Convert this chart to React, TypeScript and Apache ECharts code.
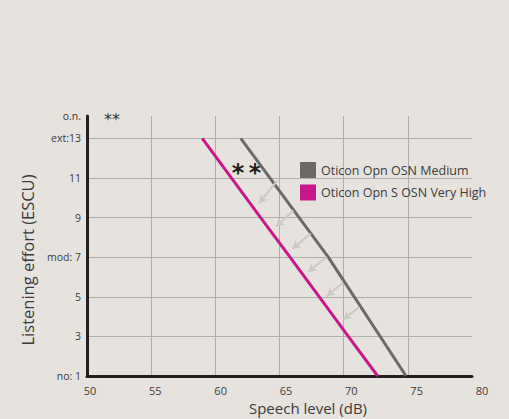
import React, { useEffect, useRef } from "react";
import * as echarts from "echarts";

// ---- data ----
const mediumEffort = [13, 7, 1];
const mediumSpeech = [61.98, 68.8, 74.86];
const veryHighEffort = [13, 11, 9, 7, 5, 3, 1];
const veryHighSpeech = [58.98, 61.25, 63.53, 65.82, 68.1, 70.36, 72.65];
const seriesNames = ["Oticon Opn OSN Medium", "Oticon Opn S OSN Very High"];
const xTicks = [50, 55, 60, 65, 70, 75, 80];
const yTickLabels: Record<number, string> = {
  1: "no: 1",
  3: "3",
  5: "5",
  7: "mod: 7",
  9: "9",
  11: "11",
  13: "ext:13",
};
const yTopLabel = "o.n.";
const yMin = 1;
const yMax = 14.13;
// arrows: [fromX, fromY, toX, toY]
const arrows = [
  [64.83, 10.87, 63.4, 9.73],
  [66.08, 9.36, 64.73, 8.55],
  [67.43, 8.19, 66.0, 7.43],
  [68.68, 7.01, 67.24, 6.25],
  [69.97, 5.72, 68.68, 5.03],
  [71.22, 4.49, 69.97, 3.85],
];

const FONT = "Open Sans";
const BG = "#e6e3df";
const GRID_C = "#b0aeab";
const TEXT_C = "#3b3a3a";

export default function App() {
  const ref = useRef<HTMLDivElement>(null);
  useEffect(() => {
    if (!ref.current) return;
    const chart = echarts.init(ref.current, undefined, { renderer: "svg" });
    const off = (v: number) => v - yMin;
    const yTickCount = Object.keys(yTickLabels).length;
    const ySplitColors = [
      "transparent",
      ...Array.from({ length: yTickCount - 1 }, () => GRID_C),
      "transparent",
    ];
    const xSplitColors = xTicks.map((t, i) =>
      i === 0 || i === xTicks.length - 1 ? "transparent" : GRID_C
    );
    const option: any = {
      animation: false,
      backgroundColor: BG,
      textStyle: { fontFamily: FONT },
      grid: [
        { left: 87, right: 37, top: 116, bottom: 43 },
        { left: 90, right: 27, top: 116, bottom: 43 },
      ],
      legend: {
        orient: "vertical",
        left: 295,
        top: 157,
        itemWidth: 16,
        itemHeight: 16,
        itemGap: 6.5,
        icon: "rect",
        data: seriesNames,
        textStyle: { color: TEXT_C, fontSize: 12.5, fontFamily: FONT },
      },
      xAxis: [
        {
          type: "value",
          gridIndex: 0,
          min: xTicks[0],
          max: xTicks[xTicks.length - 1],
          interval: 5,
          axisLine: { show: true, onZero: false, lineStyle: { color: "#231f20", width: 3 } },
          axisTick: { show: false },
          axisLabel: { show: false },
          splitLine: { show: true, lineStyle: { color: xSplitColors, width: 1 } },
        },
        {
          type: "value",
          gridIndex: 1,
          min: xTicks[0],
          max: xTicks[xTicks.length - 1],
          interval: 5,
          axisLine: { show: false },
          axisTick: { show: false },
          splitLine: { show: false },
          axisLabel: { show: true, color: TEXT_C, fontSize: 11, margin: 8, lineHeight: 12, fontFamily: FONT },
        },
      ],
      yAxis: [
        {
          type: "value",
          gridIndex: 0,
          min: 0,
          max: off(yMax),
          interval: 2,
          axisLine: { show: true, lineStyle: { color: "#231f20", width: 3 } },
          axisTick: { show: false },
          axisLabel: {
            color: TEXT_C,
            fontSize: 10.5,
            margin: 6,
            fontFamily: FONT,
            formatter: (v: number) => {
              const real = Math.round((v + yMin) * 100) / 100;
              if (Math.abs(real - yMax) < 0.01) return yTopLabel;
              return yTickLabels[real] ?? "";
            },
          },
          splitLine: { show: true, lineStyle: { color: ySplitColors, width: 1 } },
        },
        { type: "value", gridIndex: 1, show: false, min: 0, max: off(yMax) },
      ],
      series: [
        {
          name: seriesNames[0],
          type: "line",
          xAxisIndex: 0,
          yAxisIndex: 0,
          symbol: "none",
          z: 3,
          color: "#6c6968",
          lineStyle: { color: "#6c6968", width: 3 },
          itemStyle: { color: "#6c6968" },
          data: mediumSpeech.map((x, i) => [x, off(mediumEffort[i])]),
          markLine: {
            silent: true,
            symbol: ["none", "arrow"],
            symbolSize: [7, 8],
            label: { show: false },
            lineStyle: { color: "#cbc9c6", width: 2, type: "solid" },
            data: arrows.map((a) => [
              { coord: [a[0], off(a[1])] },
              { coord: [a[2], off(a[3])] },
            ]),
          },
        },
        {
          name: seriesNames[1],
          type: "line",
          xAxisIndex: 0,
          yAxisIndex: 0,
          symbol: "none",
          z: 3,
          color: "#c8168b",
          lineStyle: { color: "#c8168b", width: 3 },
          itemStyle: { color: "#c8168b" },
          data: veryHighSpeech.map((x, i) => [x, off(veryHighEffort[i])]),
        },
      ],
      graphic: [
        {
          type: "text",
          x: 27,
          y: 260,
          rotation: Math.PI / 2,
          style: {
            text: "Listening effort (ESCU)",
            fill: TEXT_C,
            fontSize: 16.5,
            fontFamily: FONT,
            align: "center",
            verticalAlign: "middle",
          },
        },
        {
          type: "text",
          x: 308,
          y: 408,
          style: {
            text: "Speech level (dB)",
            fill: TEXT_C,
            fontSize: 15,
            lineHeight: 15,
            fontFamily: FONT,
            align: "center",
            verticalAlign: "middle",
          },
        },
        {
          type: "text",
          x: 112,
          y: 119,
          style: {
            text: "**",
            fill: "#333",
            fontSize: 16,
            fontFamily: "DejaVu Sans",
            align: "center",
            verticalAlign: "middle",
          },
        },
        {
          type: "text",
          x: 238,
          y: 173,
          style: {
            text: "*",
            fill: "#231f20",
            fontSize: 24,
            fontWeight: "bold",
            fontFamily: "DejaVu Sans",
            align: "center",
            verticalAlign: "middle",
          },
        },
        {
          type: "text",
          x: 255,
          y: 173,
          style: {
            text: "*",
            fill: "#231f20",
            fontSize: 24,
            fontWeight: "bold",
            fontFamily: "DejaVu Sans",
            align: "center",
            verticalAlign: "middle",
          },
        },
      ],
    };
    chart.setOption(option);
    return () => chart.dispose();
  }, []);
  return (
    <div
      ref={ref}
      style={{ position: "absolute", left: 0, top: 0, width: 509, height: 419 }}
    />
  );
}
